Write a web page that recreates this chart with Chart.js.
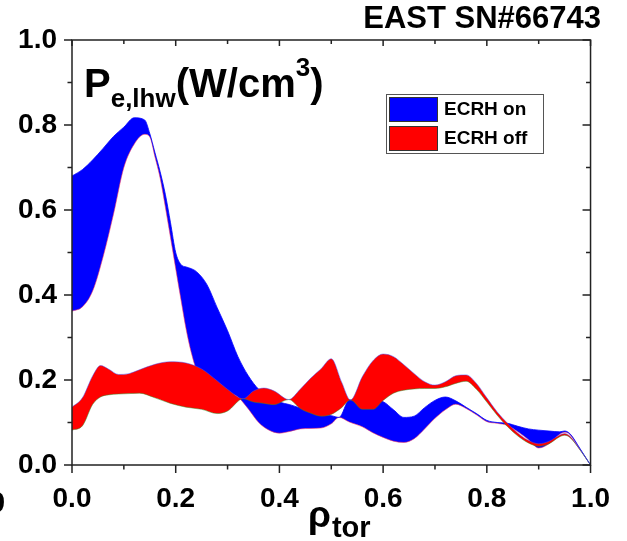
<!DOCTYPE html>
<html>
<head>
<meta charset="utf-8">
<script src="https://cdn.jsdelivr.net/npm/chart.js"></script>
<style>
  html, body { margin: 0; padding: 0; background: #fff; }
  #chart { display: block; }
</style>
</head>
<body>
<canvas id="chart" width="627" height="541"></canvas>
<script>
// rho_tor grid of each band (pinch points included)
const rhoOff = [0, 0.02, 0.04, 0.055, 0.07, 0.09, 0.11, 0.13, 0.16, 0.19, 0.22, 0.25, 0.28, 0.30, 0.33,
  0.35, 0.37, 0.39, 0.418, 0.44, 0.46, 0.48, 0.50, 0.52, 0.537, 0.56, 0.58, 0.60, 0.62, 0.64, 0.66,
  0.68, 0.70, 0.72, 0.74, 0.76, 0.78, 0.80, 0.82, 0.84, 0.86, 0.88, 0.90, 0.92, 0.94, 0.95, 0.96, 0.98, 1.0];
const offHi = [0.136, 0.158, 0.21, 0.234, 0.226, 0.213, 0.215, 0.224, 0.237, 0.243, 0.24, 0.226, 0.198, 0.178, 0.156,
  0.174, 0.181, 0.174, 0.154, 0.178, 0.204, 0.226, 0.25, 0.195, 0.153, 0.208, 0.245, 0.261, 0.255, 0.236, 0.215,
  0.196, 0.188, 0.196, 0.21, 0.212, 0.192, 0.158, 0.125, 0.098, 0.075, 0.058, 0.05, 0.056, 0.07, 0.074, 0.068, 0.036, 0];
const offLo = [0.082, 0.092, 0.143, 0.16, 0.165, 0.167, 0.168, 0.169, 0.158, 0.145, 0.136, 0.131, 0.121, 0.127, 0.156,
  0.148, 0.145, 0.142, 0.154, 0.133, 0.122, 0.115, 0.119, 0.135, 0.153, 0.131, 0.131, 0.152, 0.169, 0.176, 0.179,
  0.18, 0.18, 0.184, 0.192, 0.197, 0.178, 0.148, 0.117, 0.09, 0.068, 0.052, 0.044, 0.05, 0.066, 0.07, 0.065, 0.035, 0];

const rhoOn = [0, 0.02, 0.04, 0.06, 0.08, 0.10, 0.12, 0.14, 0.15, 0.16, 0.17, 0.18, 0.19, 0.20, 0.21, 0.22, 0.23,
  0.24, 0.26, 0.28, 0.30, 0.32, 0.34, 0.36, 0.38, 0.40, 0.42, 0.44, 0.46, 0.48, 0.50, 0.515, 0.535, 0.56, 0.58,
  0.60, 0.62, 0.64, 0.66, 0.68, 0.70, 0.72, 0.74, 0.76, 0.78, 0.80, 0.82, 0.84, 0.86, 0.88, 0.90, 0.92, 0.94,
  0.95, 0.96, 0.98, 1.0];
const onHi = [0.68, 0.695, 0.718, 0.745, 0.773, 0.795, 0.817, 0.812, 0.78, 0.735, 0.69, 0.637, 0.57, 0.50, 0.472,
  0.466, 0.462, 0.455, 0.425, 0.37, 0.316, 0.255, 0.21, 0.178, 0.16, 0.148, 0.142, 0.134, 0.126, 0.119, 0.116,
  0.112, 0.153, 0.15, 0.153, 0.149, 0.13, 0.112, 0.115, 0.135, 0.152, 0.16, 0.151, 0.136, 0.121, 0.105, 0.1,
  0.098, 0.091, 0.085, 0.082, 0.08, 0.078, 0.08, 0.074, 0.038, 0];
const onLo = [0.362, 0.372, 0.41, 0.49, 0.59, 0.70, 0.755, 0.778, 0.772, 0.725, 0.675, 0.607, 0.535, 0.462, 0.39,
  0.32, 0.265, 0.225, 0.2, 0.185, 0.172, 0.16, 0.132, 0.1, 0.082, 0.075, 0.079, 0.085, 0.086, 0.087, 0.097,
  0.112, 0.101, 0.09, 0.076, 0.065, 0.056, 0.053, 0.062, 0.085, 0.11, 0.13, 0.143, 0.133, 0.118, 0.102, 0.098,
  0.093, 0.078, 0.06, 0.04, 0.05, 0.072, 0.077, 0.072, 0.036, 0];

const seriesNames = ['ECRH on', 'ECRH off'];
const xTicks = [0, 0.2, 0.4, 0.6, 0.8, 1.0];
const yTicks = [0, 0.2, 0.4, 0.6, 0.8, 1.0];

const FONT = '"Liberation Sans", Arial, sans-serif';
const BLUE = '#0000ff';
const RED = '#ff0000';

function pts(xs, ys) {
  return xs.map(function (x, i) { return { x: x, y: ys[i] }; });
}

function txt(ctx, s, x, y, size, align) {
  ctx.font = 'bold ' + size + 'px ' + FONT;
  ctx.textAlign = align || 'left';
  ctx.fillText(s, x, y);
  return ctx.measureText(s).width;
}

// box, ticks on all four sides and the free texts
const frame = {
  id: 'frame',
  afterDraw(chart) {
    const ctx = chart.ctx, a = chart.chartArea;
    const xs = chart.scales.x, ys = chart.scales.y;
    ctx.save();
    ctx.strokeStyle = '#222';
    ctx.lineWidth = 1.5;
    ctx.strokeRect(a.left, a.top, a.right - a.left, a.bottom - a.top);
    ctx.beginPath();
    for (let k = 0; k <= 10; k++) {
      const v = k / 10, major = k % 2 === 0;
      const px = xs.getPixelForValue(v), py = ys.getPixelForValue(v);
      const lo = major ? 8 : 4.5, li = major ? 8 : 4.5;
      ctx.moveTo(px, a.bottom); ctx.lineTo(px, a.bottom + lo);
      ctx.moveTo(px, a.top); ctx.lineTo(px, a.top + (major ? 6 : 4));
      ctx.moveTo(a.left, py); ctx.lineTo(a.left - lo, py);
      ctx.moveTo(a.right, py); ctx.lineTo(a.right - li, py);
    }
    ctx.stroke();

    ctx.fillStyle = '#000';
    ctx.textBaseline = 'alphabetic';
    txt(ctx, 'EAST SN#66743', 601, 28, 31, 'right');

    // P_e,lhw (W/cm^3)
    let x = 84;
    x += txt(ctx, 'P', x, 97, 40);
    x += txt(ctx, 'e,lhw', x, 107, 26);
    x += txt(ctx, '(W/cm', x, 97, 40);
    x += txt(ctx, '3', x, 76, 26);
    txt(ctx, ')', x, 97, 40);

    // axis title rho_tor
    ctx.font = 'bold 37px ' + FONT;
    ctx.textAlign = 'left';
    ctx.fillText('\u03c1', 308, 527);
    const w = ctx.measureText('\u03c1').width;
    txt(ctx, 'tor', 308 + w + 1, 537, 29);

    // cut label of the neighbouring panel
    txt(ctx, '0', -11, 512, 29);

    // legend
    const L = { x: 386, y: 94, w: 157, h: 59 };
    ctx.lineWidth = 1;
    ctx.strokeStyle = '#555';
    ctx.strokeRect(L.x + 0.5, L.y + 0.5, L.w, L.h);
    const cols = [BLUE, RED];
    for (let i = 0; i < 2; i++) {
      const sy = L.y + 3 + i * 29;
      ctx.fillStyle = cols[i];
      ctx.fillRect(L.x + 3, sy, 49, 25);
      ctx.strokeStyle = '#333';
      ctx.strokeRect(L.x + 3.5, sy + 0.5, 48, 24);
      ctx.fillStyle = '#000';
      ctx.textBaseline = 'middle';
      txt(ctx, seriesNames[i], L.x + 58, sy + 13, 19);
    }
    ctx.restore();
  }
};

new Chart(document.getElementById('chart'), {
  type: 'line',
  data: {
    datasets: [
      { label: 'off upper', data: pts(rhoOff, offHi), borderColor: 'rgba(60,80,255,0.6)', borderWidth: 0.8,
        fill: false, order: 0 },
      { label: seriesNames[1], data: pts(rhoOff, offLo), borderColor: 'rgba(40,150,40,0.6)', borderWidth: 0.8,
        fill: '-1', backgroundColor: RED, order: 0 },
      { label: 'on upper', data: pts(rhoOn, onHi), borderColor: BLUE, borderWidth: 0.8,
        fill: false, order: 1 },
      { label: seriesNames[0], data: pts(rhoOn, onLo), borderColor: 'rgba(255,60,90,0.7)', borderWidth: 0.8,
        fill: '-1', backgroundColor: BLUE, order: 1 }
    ]
  },
  options: {
    responsive: false,
    animation: false,
    devicePixelRatio: 1,
    layout: { padding: { left: 0, top: 40, right: 26, bottom: 0 } },
    plugins: { legend: { display: false }, tooltip: { enabled: false } },
    elements: { line: { cubicInterpolationMode: 'monotone' }, point: { radius: 0 } },
    scales: {
      x: {
        type: 'linear', min: 0, max: 1,
        afterFit: function (s) { s.height = 76; },
        afterBuildTicks: function (s) { s.ticks = xTicks.map(function (v) { return { value: v }; }); },
        ticks: { padding: 17, color: '#000', maxRotation: 0, autoSkip: false,
          font: { family: FONT, size: 28, weight: 'bold' },
          callback: function (v) { return Number(v).toFixed(1); } },
        grid: { display: false, drawTicks: false },
        border: { display: false }
      },
      y: {
        type: 'linear', min: 0, max: 1,
        afterFit: function (s) { s.width = 72; },
        afterBuildTicks: function (s) { s.ticks = yTicks.map(function (v) { return { value: v }; }); },
        ticks: { padding: 15, color: '#000', autoSkip: false,
          font: { family: FONT, size: 28, weight: 'bold' },
          callback: function (v) { return Number(v).toFixed(1); } },
        grid: { display: false, drawTicks: false },
        border: { display: false }
      }
    }
  },
  plugins: [frame]
});
</script>
</body>
</html>
